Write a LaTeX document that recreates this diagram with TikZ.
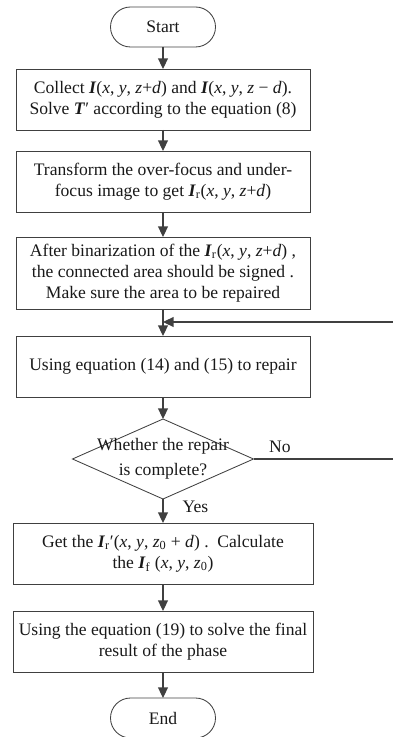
\documentclass[tikz,border=0pt]{standalone}
\usepackage{fontspec}
\setmainfont{Liberation Serif}
\usetikzlibrary{arrows.meta,positioning,shapes.geometric}
\definecolor{LineGray}{RGB}{64,64,64}
\definecolor{TextBlack}{RGB}{25,25,25}
\newcommand{\mv}[1]{\textit{#1}}
\newcommand{\bI}{\textbf{\textit{I}}}
\newcommand{\bT}{\textbf{\textit{T}}}
\tikzset{
  terminal/.style={draw=LineGray,rounded corners=0.5cm,line width=0.6pt,
    outer sep=0pt,minimum width=2.625cm,minimum height=1cm,align=center},
  stepbox/.style={draw=LineGray,line width=0.6pt,outer sep=0pt,
    minimum width=7.35cm,minimum height=1.525cm,align=center,inner sep=2pt},
  widebox/.style={stepbox,minimum width=7.5cm},
  decision/.style={diamond,draw=LineGray,line width=0.6pt,outer sep=0pt,
    aspect=2.26,minimum width=4.525cm,minimum height=2cm,inner sep=-10pt,
    align=center},
  lbl/.style={inner sep=1pt},
  arrow/.style={-{Triangle[length=7.5pt,width=7pt]},line width=0.8pt,LineGray}
}

\begin{document}
\begin{tikzpicture}[node distance=0.6cm,font=\fontsize{12.5}{14.9}\selectfont,
    text=TextBlack]
  \node[terminal] (start) {Start};
  \useasboundingbox (-4.075,0.675) rectangle (5.725,-17.75);
  \node[stepbox,below=0.55cm of start] (collect)
    {Collect \bI(\mv{x}, \mv{y}, \mv{z}+\mv{d}) and \bI(\mv{x}, \mv{y}, \mv{z} − \mv{d}).\\
     Solve \bT′ according to the equation (8)};
  \node[stepbox,below=0.525cm of collect] (transform)
    {Transform the over-focus and under-\\
     focus image to get \bI\textsubscript{r}(\mv{x}, \mv{y}, \mv{z}+\mv{d})};
  \node[stepbox,below=0.625cm of transform,minimum height=1.8cm] (binar)
    {After binarization of the \bI\textsubscript{r}(\mv{x}, \mv{y}, \mv{z}+\mv{d}) ,\\
     the connected area should be signed .\\
     Make sure the area to be repaired};
  \node[stepbox,below=0.675cm of binar] (repair)
    {Using equation (14) and (15) to repair};
  \node[decision,below=0.55cm of repair] (check)
    {Whether the repair\\[3pt] is complete?};
  \node[widebox,below=0.6cm of check] (getI)
    {Get the \bI\textsubscript{r}′(\mv{x}, \mv{y}, \mv{z}\textsubscript{0} + \mv{d}) .\ \ Calculate\\
     the \bI\textsubscript{f} (\mv{x}, \mv{y}, \mv{z}\textsubscript{0})};
  \node[widebox,below=0.675cm of getI] (phase)
    {Using the equation (19) to solve the final\\ result of the phase};
  \node[terminal,below=0.65cm of phase] (end) {End};
  % loop back
  \coordinate (join) at ([yshift=-0.325cm]binar.south);
  \node[lbl,above right=0.12cm and 0.35cm of check.east] (no) {No};
  \node[lbl,below right=0.02cm and 0.45cm of check.south] (yes) {Yes};
  \draw[arrow] (start) -- (collect);
  \draw[arrow] (collect) -- (transform);
  \draw[arrow] (transform) -- (binar);
  \draw[arrow] (binar) -- (repair);
  \draw[arrow] (repair) -- (check);
  \draw[arrow] (check) -- (getI);
  \draw[arrow] (getI) -- (phase);
  \draw[arrow] (phase) -- (end);
  \draw[arrow] (check.east) -- ++(4cm,0) |- (join);
\end{tikzpicture}
\end{document}
